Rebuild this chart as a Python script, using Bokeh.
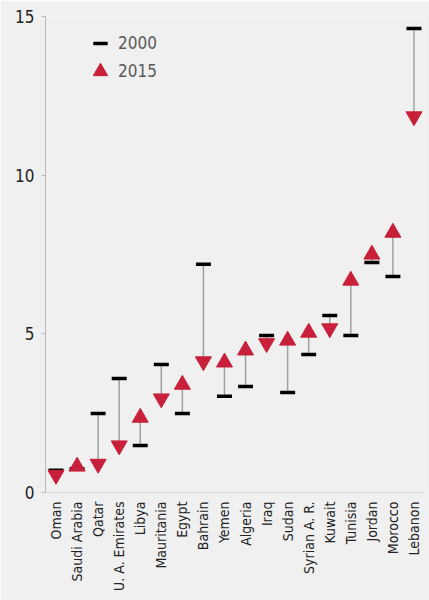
import math
from bokeh.plotting import figure
from bokeh.models import ColumnDataSource, Range1d, FixedTicker, Legend, LegendItem
from bokeh.embed import file_html
from bokeh.resources import INLINE

countries = ["Oman", "Saudi Arabia", "Qatar", "U. A. Emirates", "Libya", "Mauritania",
             "Egypt", "Bahrain", "Yemen", "Algeria", "Iraq", "Sudan", "Syrian A. R.",
             "Kuwait", "Tunisia", "Jordan", "Morocco", "Lebanon"]
v2000 = [0.70, 0.75, 2.49, 3.59, 1.48, 4.03, 2.49, 7.19, 3.03, 3.34, 4.95, 3.15, 4.35,
         5.58, 4.95, 7.25, 6.81, 14.62]
v2015 = [0.55, 0.82, 0.90, 1.48, 2.36, 2.96, 3.40, 4.13, 4.10, 4.48, 4.70, 4.79, 5.04,
         5.17, 6.68, 7.50, 8.19, 11.85]
y_ticks = [0, 5, 10, 15]

RED = "#c8203a"
FONT = "DejaVu Sans Condensed"

up = [(c, b) for c, a, b in zip(countries, v2000, v2015) if b >= a]
down = [(c, b) for c, a, b in zip(countries, v2000, v2015) if b < a]

src = ColumnDataSource(dict(c=countries, a=v2000, b=v2015))
src_up = ColumnDataSource(dict(c=[u[0] for u in up], b=[u[1] for u in up]))
src_down = ColumnDataSource(dict(c=[d[0] for d in down], b=[d[1] for d in down]))

p = figure(x_range=countries, y_range=Range1d(0, 15), width=429, height=600,
           output_backend="svg", toolbar_location=None,
           min_border_left=45, min_border_right=5, min_border_top=16, min_border_bottom=108,
           background_fill_color="#f0f0f0", border_fill_color="#f0f0f0")
p.outline_line_color = None
p.xgrid.grid_line_color = None
p.ygrid.grid_line_color = None

p.segment(x0="c", y0="a", x1="c", y1="b", source=src, line_color="#a0a0a0", line_width=1.5)
r2000 = p.scatter(x="c", y="a", source=src, marker="dash", size=15, line_width=3.5,
                  line_color="black")
rup = p.scatter(x="c", y="b", source=src_up, marker="triangle", size=16,
                fill_color=RED, line_color=RED)
p.scatter(x="c", y="b", source=src_down, marker="inverted_triangle", size=16,
          fill_color=RED, line_color=RED)

legend_style = dict(padding=0, spacing=0, glyph_width=36, glyph_height=36,
                    label_text_font=FONT, label_text_font_size="17px",
                    label_text_color="#595959", background_fill_alpha=0,
                    border_line_alpha=0, label_standoff=-2)
p.add_layout(Legend(items=[LegendItem(label="2000", renderers=[r2000])],
                    location=(37, 431), **legend_style))
p.add_layout(Legend(items=[LegendItem(label="2015", renderers=[rup])],
                    location=(37, 403), **legend_style))

p.yaxis.ticker = FixedTicker(ticks=y_ticks)
p.yaxis.axis_line_color = "#bbbbbb"
p.yaxis.major_tick_line_color = "#bbbbbb"
p.yaxis.major_tick_out = 4
p.yaxis.major_tick_in = 0
p.yaxis.minor_tick_line_color = None
p.yaxis.major_label_standoff = 7
p.yaxis.major_label_text_font = FONT
p.yaxis.major_label_text_font_size = "17px"
p.yaxis.major_label_text_color = "#222222"

p.xaxis.axis_line_color = "#dddddd"
p.xaxis.major_tick_line_color = None
p.xaxis.major_tick_out = 0
p.xaxis.major_label_standoff = 9
p.xaxis.major_label_orientation = math.pi / 2
p.xaxis.major_label_text_font = FONT
p.xaxis.major_label_text_font_size = "14px"
p.xaxis.major_label_text_color = "#222222"

open("out.html", "w").write(file_html(p, INLINE))
